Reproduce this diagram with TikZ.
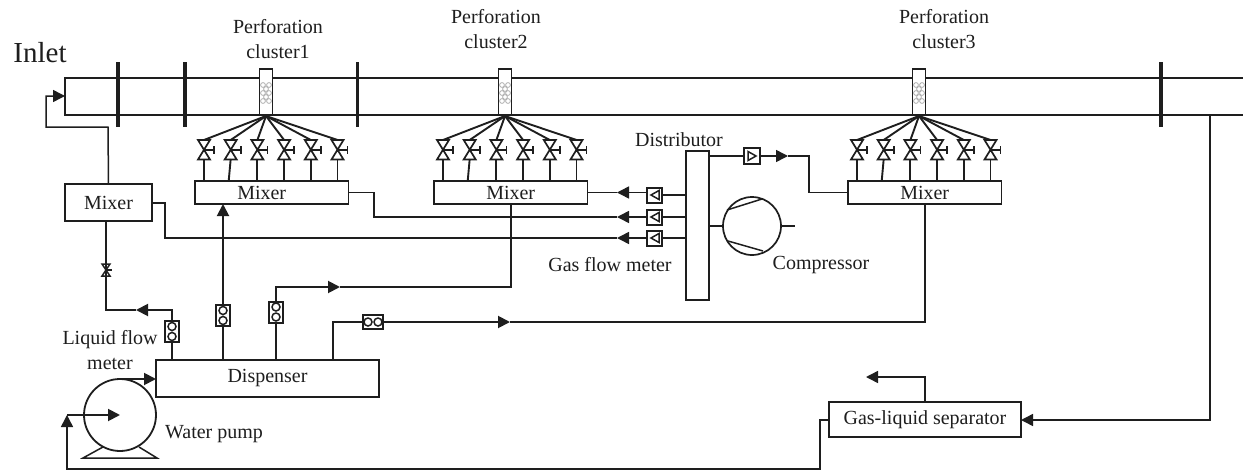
\documentclass[tikz,border=0pt]{standalone}
\usepackage{fontspec}
\setmainfont{Liberation Serif}
\usetikzlibrary{arrows.meta,calc}
\definecolor{ink}{HTML}{1E1E1E}
\tikzset{
  line/.style={draw=ink,line width=1.5pt},
  heavy/.style={draw=ink,line width=1.9pt},
  bar/.style={draw=ink,line width=3.2pt},
  arr/.style={-{Triangle[length=12pt,width=12pt]}},
  lbl/.style={text=ink,font=\fontsize{20}{25}\selectfont,align=center,inner sep=0pt},
  box/.style={draw=ink,line width=1.8pt,fill=white,inner sep=0pt,outer sep=0pt,text=ink,
     font=\fontsize{20}{24}\selectfont},
  meterbox/.style={draw=ink,line width=2pt,fill=white,inner sep=0pt,outer sep=0pt,minimum width=#1},
  valve/.pic={
    \draw[draw=ink,line width=1.7pt] (-6,-10) -- (6,-10) -- (-6,9.5) -- (6,9.5) -- cycle;
    \draw[draw=ink,line width=1.7pt] (0,0) -- (10,0) (10,-4) -- (10,4);
  },
  smallvalve/.pic={
    \draw[line] (-4,-6) -- (4,-6) -- (-4,6) -- (4,6) -- cycle;
    \draw[line] (0,0) -- (6,0);
  }
}
\newcommand{\perfcluster}[3]{% id, mixer left, text shift
  \node[draw=ink,fill=white,line width=1.4pt,minimum width=13.5pt,minimum height=46pt,inner sep=0pt,outer sep=0pt] (perf#1) at (#2+71,92) {};
  \foreach \cx/\cy in {-3/85,3/85,0/89,-3/93,3/93,0/97,-3/101,3/101}
    \draw[gray!70,line width=.7pt] (#2+71+\cx,\cy) circle (2.4pt);
  \coordinate (apex#1) at (#2+71,116);
  \node[box,minimum width=153.5pt,minimum height=23pt] (mix#1) at (#2+76.7,192.5) {\hspace*{#3pt}Mixer};
  \foreach \i in {0,...,5}{
    \coordinate (v#1-\i) at (#2+9+26.7*\i,150);
    \pic at (v#1-\i) {valve};
    \draw[heavy] (apex#1) -- ($(v#1-\i)+(0,-10)$);
    \ifnum\i=1
      \draw[heavy] ($(v#1-\i)+(0,9)$) -- ($(v#1-\i)+(-2,31)$);
    \else
      \draw[heavy] ($(v#1-\i)+(0,9)$) -- ($(v#1-\i)+(0,31)$);
    \fi
  }
}
\begin{document}
\begin{tikzpicture}[x=1pt,y=-1pt]
\useasboundingbox (0,0) rectangle (1243,471);
\fill[white] (0,0) rectangle (1243,471);

% pipe
\coordinate (pipeTR) at (1243,78);
\coordinate (pipeTL) at (65,78);
\coordinate (pipeBL) at (65,115);
\coordinate (pipeBR) at (1243,115);
\draw[line] (pipeTR) -- (pipeTL) -- (pipeBL) -- (pipeBR);
\foreach \bx in {118,185,357.5,1161}
  \draw[bar] (\bx,62) -- (\bx,127);

% clusters
\perfcluster{1}{195}{-20}
\perfcluster{2}{434}{0}
\perfcluster{3}{848}{0}

\node[lbl] (tInlet) at (40,53) {\fontsize{29}{30}\selectfont Inlet};
\node[lbl] (t1) at (278,39.5) {Perforation\\cluster1};
\node[lbl] (t2) at (496,29.5) {Perforation\\cluster2};
\node[lbl] (t3) at (944,29.5) {Perforation\\cluster3};
\node[lbl] (tDist) at (679,140) {Distributor};
\node[lbl] (tGas) at (610,265) {Gas flow meter};
\node[lbl] (tComp) at (821,265) {Compressor};
\node[lbl] (tLiq) at (110,350.5) {Liquid flow\\meter};
\node[lbl] (tPump) at (214,434) {Water pump};

% boxes
\node[box,minimum width=87pt,minimum height=37pt] (mix0) at (108.5,202.5) {Mixer};
\node[box,minimum width=23pt,minimum height=149pt] (dist) at (697.5,225.5) {};
\node[box,minimum width=223pt,minimum height=37pt] (disp) at (267.5,378.5) {Dispenser};
\node[box,minimum width=192pt,minimum height=35pt] (sep) at (925,419.5) {Gas-liquid separator};

% left mixer to inlet
\coordinate (a1) at (108,127); \coordinate (a2) at (46,127); \coordinate (a3) at (46,96);
\draw[line,arr] (mix0.north) -- (a1) -- (a2) -- (a3) -- (pipeBL |- a3);

% gas meters
\foreach \n/\my in {A/195,B/217,C/238}{
  \node[meterbox=15pt,minimum height=15pt] (gm\n) at (654.5,\my) {};
  \draw[line] (651,\my) -- (659,\my-4.5) -- (659,\my+4.5) -- cycle;
  \draw[line] (gm\n.east) -- (dist.west |- gm\n.east);
}
\node[meterbox=16pt,minimum height=16pt] (gmD) at (752,156) {};
\draw[line] (756,156) -- (748,151.5) -- (748,160.5) -- cycle;
\draw[line] (dist.east |- gmD) -- (gmD.west);

% gas lines
\coordinate (hA) at (617,192.5);
\draw[line,arr] (gmA.west |- hA) -- (hA);
\draw[line] (hA) -- (mix2.east);
\coordinate (b1) at (374,192.5); \coordinate (b2) at (374,217); \coordinate (hB) at (617,217);
\draw[heavy] (mix1.east) -- (b1) -- (b2) -- (hB);
\draw[line,arr] (gmB.west) -- (hB);
\coordinate (c1) at (165,203); \coordinate (c2) at (165,238); \coordinate (hC) at (617,238);
\draw[heavy] (mix0.east |- c1) -- (c1) -- (c2) -- (hC);
\draw[line,arr] (gmC.west) -- (hC);
\coordinate (d1) at (788,156); \coordinate (d2) at (809,156); \coordinate (d3) at (809,192.5);
\draw[line,arr] (gmD.east) -- (d1);
\draw[line] (d1) -- (d2) -- (d3) -- (mix3.west);

% compressor
\node[draw=ink,line width=1.7pt,circle,minimum size=58pt,inner sep=0pt,outer sep=0pt] (comp) at (752,226) {};
\draw[line] (dist.east |- comp) -- (comp.west);
\coordinate (compOut) at (795,226);
\draw[line] (comp.east) -- (compOut);
\draw[line] (727,210) -- (762,199) (728,241) -- (763,251);

% liquid meters
\newcommand{\vmeter}[3]{%
  \node[meterbox=14pt,minimum height=21pt] (#1) at (#2,#3) {};
  \draw[line] (#2,#3-5) circle (4pt) (#2,#3+5) circle (4pt);}
\vmeter{lmA}{172}{331.5}
\vmeter{lmB}{223}{315.5}
\vmeter{lmC}{276}{312}
\node[meterbox=20pt,minimum height=14pt] (lmD) at (373,322) {};
\draw[line] (368,322) circle (4pt) (378,322) circle (4pt);

\draw[heavy] (disp.north -| lmA) -- (lmA.south);
\coordinate (e1) at (172,310); \coordinate (e2) at (136,310); \coordinate (e3) at (106,310);
\coordinate (sv) at (106,270);
\draw[heavy,arr] (lmA.north) -- (e1) -- (e2);
\draw[heavy] (e2) -- (e3) -- (sv);
\pic at (sv) {smallvalve};
\draw[heavy] (sv) -- (mix0.south -| sv);

\draw[heavy] (disp.north -| lmB) -- (lmB.south);
\draw[heavy,arr] (lmB.north) -- (mix1.south -| lmB);

\draw[heavy] (disp.north -| lmC) -- (lmC.south);
\coordinate (f1) at (276,287); \coordinate (f2) at (340,287); \coordinate (f3) at (511,287);
\draw[heavy,arr] (lmC.north) -- (f1) -- (f2);
\draw[line] (f2) -- (f3) -- (mix2.south -| f3);

\coordinate (g1) at (333,322); \coordinate (g2) at (510,322); \coordinate (g3) at (925,322);
\draw[heavy] (disp.north -| g1) -- (g1) -- (lmD.west);
\draw[heavy,arr] (lmD.east) -- (g2);
\draw[line] (g2) -- (g3) -- (mix3.south -| g3);

% pump
\node[draw=ink,line width=1.8pt,circle,minimum size=72pt,inner sep=0pt,outer sep=0pt] (pump) at (120,415) {};
\coordinate (h1) at (83,458); \coordinate (h2) at (157,458);
\draw[line] (103,447) -- (h1) -- (h2) -- (139,447);
\draw[heavy,arr] (pump.north) -- (disp.west |- pump.north);
\coordinate (i1) at (67,415);
\draw[heavy,arr] (i1) -- (pump.center);

% return
\coordinate (j1) at (67,469); \coordinate (j2) at (820,469); \coordinate (j3) at (820,420);
\draw[line,arr] (sep.west |- j3) -- (j3) -- (j2) -- (j1) -- (i1);
\coordinate (k1) at (925,377); \coordinate (k2) at (866,377);
\draw[line,arr] (sep.north) -- (k1) -- (k2);
\coordinate (l1) at (1210,115); \coordinate (l2) at (1210,420);
\draw[line,arr] (l1) -- (l2) -- (sep.east |- l2);
\end{tikzpicture}
\end{document}
